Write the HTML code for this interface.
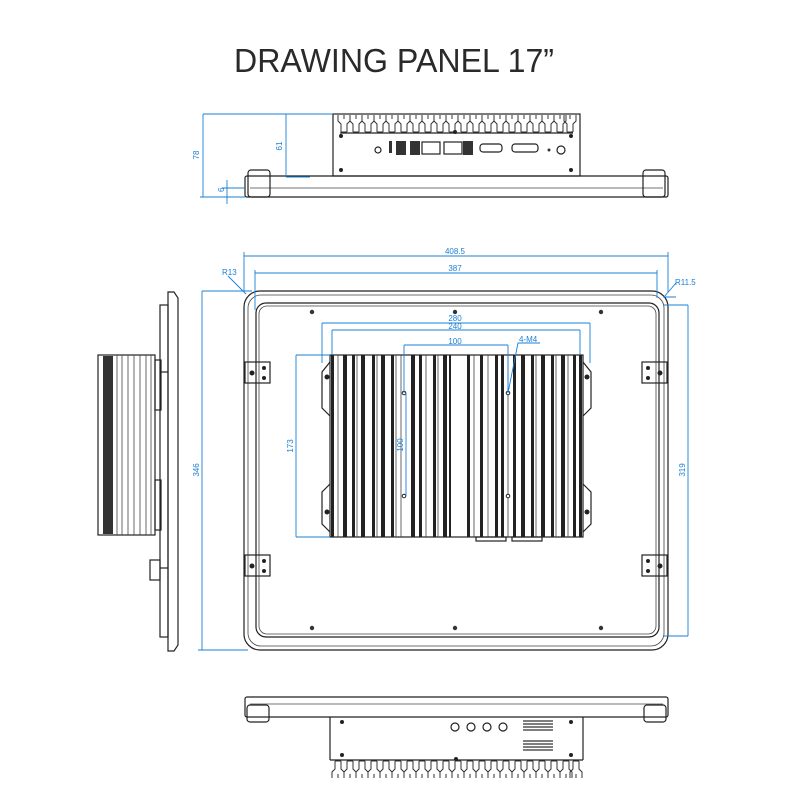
<!DOCTYPE html>
<html><head><meta charset="utf-8"><style>
html,body{margin:0;padding:0;background:#fff;width:800px;height:800px;overflow:hidden}
svg{display:block}
.k{fill:none;stroke:#222;stroke-width:1.2}
.t{fill:none;stroke:#444;stroke-width:.8}
.b{fill:none;stroke:#1a7fd6;stroke-width:.9}
.bt{fill:#1a7fd6;font-family:"Liberation Sans",sans-serif;font-size:8px}
</style></head><body>
<svg width="800" height="800" viewBox="0 0 800 800" xmlns="http://www.w3.org/2000/svg">
<defs>
<path id="fin" d="M0 0v6l3 3v8M12 0v6l-3 3v8M3 17h6M6 0v4" fill="none" stroke="#333" stroke-width="1"/>
<path id="finb" d="M0 18v-6l3-3v-8M12 18v-6l-3-3v-8M3 1h6M6 18v-4" fill="none" stroke="#333" stroke-width="1"/>
</defs>
<text x="394" y="72" text-anchor="middle" font-family="Liberation Sans,sans-serif" font-size="33" fill="#2a2a2a" textLength="320" lengthAdjust="spacingAndGlyphs">DRAWING PANEL 17”</text>

<!-- TOP VIEW -->
<g>
<rect class="k" x="333" y="114" width="247" height="62"/>
<line class="k" x1="340" y1="133" x2="573" y2="133"/>
<g transform="translate(0,115)">
<use href="#fin" x="338"/><use href="#fin" x="350"/><use href="#fin" x="362"/><use href="#fin" x="374"/><use href="#fin" x="386"/><use href="#fin" x="398"/><use href="#fin" x="410"/><use href="#fin" x="422"/><use href="#fin" x="434"/><use href="#fin" x="446"/><use href="#fin" x="458"/><use href="#fin" x="470"/><use href="#fin" x="482"/><use href="#fin" x="494"/><use href="#fin" x="506"/><use href="#fin" x="518"/><use href="#fin" x="530"/><use href="#fin" x="542"/><use href="#fin" x="554"/><use href="#fin" x="564"/>
</g>
<rect x="396" y="141" width="10" height="14" fill="#333"/><rect x="410" y="141" width="10" height="14" fill="#333"/>
<rect class="k" x="422" y="142" width="18" height="12"/><rect class="k" x="444" y="142" width="18" height="12"/>
<rect x="463" y="141" width="10" height="14" fill="#333"/>
<rect class="k" x="480" y="144" width="22" height="8" rx="3"/><rect class="k" x="512" y="144" width="26" height="8" rx="3"/>
<circle class="k" cx="378" cy="150" r="3"/><circle class="k" cx="561" cy="150" r="4"/><circle cx="549" cy="150" r="1.5" fill="#333"/>
<rect x="389" y="141" width="3" height="12" fill="#333"/>
<circle cx="341" cy="136" r="2" fill="#222"/><circle cx="571" cy="136" r="2" fill="#222"/><circle cx="455" cy="132" r="2" fill="#222"/>
<circle cx="341" cy="170" r="2" fill="#222"/><circle cx="571" cy="170" r="2" fill="#222"/>
<rect class="k" x="245" y="176" width="423" height="21" rx="2"/>
<line class="t" x1="250" y1="188" x2="663" y2="188"/>
<rect class="k" x="248" y="170" width="22" height="27" rx="3"/><rect class="k" x="643" y="170" width="22" height="27" rx="3"/>
<line class="b" x1="203" y1="114" x2="333" y2="114"/><line class="b" x1="203" y1="114" x2="203" y2="197"/><line class="b" x1="200" y1="197" x2="245" y2="197"/>
<text class="bt" transform="translate(199,155) rotate(-90)" text-anchor="middle">78</text>
<line class="b" x1="286" y1="114" x2="286" y2="177"/><line class="b" x1="286" y1="177" x2="310" y2="177"/>
<text class="bt" transform="translate(282,146) rotate(-90)" text-anchor="middle" font-size="6">61</text>
<line class="b" x1="227" y1="180" x2="227" y2="204"/><line class="b" x1="222" y1="188" x2="245" y2="188"/>
<text class="bt" transform="translate(224,192) rotate(-90)" font-size="5">6</text>
</g>

<!-- SIDE VIEW -->
<g>
<path class="k" d="M168 292h6l4 6v347l-4 6h-6z"/>
<rect class="k" x="160" y="305" width="8" height="332"/>
<rect class="k" x="98" y="355" width="57" height="180"/>
<rect x="103" y="356" width="10" height="178" fill="#333"/>
<g class="t"><path d="M117 355v180M122 355v180M128 355v180M134 355v180M140 355v180M146 355v180M151 355v180"/></g>
<rect class="k" x="155" y="360" width="6" height="50"/><rect class="k" x="155" y="480" width="6" height="50"/>
<rect class="k" x="150" y="560" width="10" height="20"/>
<line class="k" x1="160" y1="372" x2="168" y2="372"/><line class="k" x1="160" y1="568" x2="168" y2="568"/>
</g>

<!-- MAIN FRONT -->
<g>
<rect class="k" x="244" y="291" width="424" height="359" rx="16"/>
<rect class="t" x="248" y="295" width="416" height="351" rx="13"/>
<rect class="k" x="256" y="303" width="403" height="334" rx="10"/>
<rect class="t" x="259" y="306" width="397" height="328" rx="8"/>
<g fill="#333"><circle cx="312" cy="312" r="2.2"/><circle cx="455" cy="312" r="2.2"/><circle cx="601" cy="312" r="2.2"/><circle cx="312" cy="628" r="2.2"/><circle cx="455" cy="628" r="2.2"/><circle cx="601" cy="628" r="2.2"/></g>
<g>
<rect class="k" fill="#fff" x="245" y="362" width="25" height="21"/><rect class="k" fill="#fff" x="245" y="555" width="25" height="21"/>
<rect class="k" fill="#fff" x="642" y="362" width="25" height="21"/><rect class="k" fill="#fff" x="642" y="555" width="25" height="21"/>
<g fill="#222"><circle cx="252" cy="373" r="2.5"/><circle cx="264" cy="368" r="2"/><circle cx="264" cy="378" r="2"/>
<circle cx="252" cy="566" r="2.5"/><circle cx="264" cy="561" r="2"/><circle cx="264" cy="571" r="2"/>
<circle cx="660" cy="373" r="2.5"/><circle cx="648" cy="368" r="2"/><circle cx="648" cy="378" r="2"/>
<circle cx="660" cy="566" r="2.5"/><circle cx="648" cy="561" r="2"/><circle cx="648" cy="571" r="2"/></g>
</g>
<path class="k" d="M330 362l-8 10v36l8 8M330 484l-8 8v32l8 8M583 362l8 10v36l-8 8M583 484l8 8v32l-8 8"/>
<rect class="k" x="330" y="355" width="253" height="182"/>
<g fill="#222">
<rect x="331" y="355" width="3" height="182"/><rect x="343" y="355" width="4" height="182"/><rect x="352" y="355" width="3" height="182"/><rect x="361" y="355" width="4" height="182"/><rect x="372" y="355" width="3" height="182"/><rect x="381" y="355" width="4" height="182"/><rect x="391" y="355" width="3" height="182"/>
<rect x="411" y="355" width="4" height="182"/><rect x="419" y="355" width="3" height="182"/><rect x="433" y="355" width="3" height="182"/><rect x="443" y="355" width="4" height="182"/><rect x="449" y="355" width="2" height="182"/>
<rect x="467" y="355" width="3" height="182"/><rect x="480" y="355" width="3" height="182"/><rect x="495" y="355" width="3" height="182"/><rect x="501" y="355" width="3" height="182"/>
<rect x="513" y="355" width="3" height="182"/><rect x="521" y="355" width="4" height="182"/><rect x="531" y="355" width="3" height="182"/><rect x="541" y="355" width="4" height="182"/><rect x="551" y="355" width="3" height="182"/><rect x="561" y="355" width="4" height="182"/><rect x="573" y="355" width="3" height="182"/><rect x="579" y="355" width="3" height="182"/>
</g>
<g class="t"><path d="M338 355v182M357 355v182M377 355v182M396 355v182M401 355v182M426 355v182M438 355v182M474 355v182M488 355v182M508 355v182M536 355v182M556 355v182M568 355v182"/></g>
<rect class="k" fill="#fff" x="476" y="537" width="30" height="4"/><rect class="k" fill="#fff" x="512" y="537" width="30" height="4"/>
<g fill="#222"><circle cx="327" cy="377" r="2.5"/><circle cx="587" cy="377" r="2.5"/><circle cx="327" cy="512" r="2.5"/><circle cx="587" cy="512" r="2.5"/></g>
<g fill="#fff" stroke="#222"><circle cx="404" cy="393" r="1.8"/><circle cx="508" cy="393" r="1.8"/><circle cx="404" cy="496" r="1.8"/><circle cx="508" cy="496" r="1.8"/></g>
</g>
<g class="b">
<path d="M244 256h424M244 252v40M668 252v40"/>
<path d="M255 273h402M255 270v40M657 270v28"/>
<path d="M202 291h50M202 291v359M198 650h50"/>
<path d="M688 305h-25M688 305v331M688 636h-25"/>
<path d="M322 323h268M322 323v40M590 323v40"/>
<path d="M332 330h248M332 330v25M580 330v25"/>
<path d="M404 345h104M404 345v48M508 345v48"/>
<path d="M296 355h34M296 355v182M296 537h34"/>
<path d="M406 393v103"/>
<path d="M508 393l10-50h22"/>
<path d="M228 276l18 18M676 283l-12 14h12"/>
</g>
<text class="bt" x="455" y="254" text-anchor="middle">408.5</text>
<text class="bt" x="455" y="271" text-anchor="middle">387</text>
<text class="bt" x="455" y="321" text-anchor="middle">280</text>
<text class="bt" x="455" y="329" text-anchor="middle">240</text>
<text class="bt" x="455" y="344" text-anchor="middle">100</text>
<text class="bt" x="519" y="342">4-M4</text>
<text class="bt" x="222" y="275" font-size="6">R13</text>
<text class="bt" x="675" y="285" font-size="7">R11.5</text>
<text class="bt" transform="translate(199,470) rotate(-90)" text-anchor="middle">346</text>
<text class="bt" transform="translate(685,470) rotate(-90)" text-anchor="middle">319</text>
<text class="bt" transform="translate(293,446) rotate(-90)" text-anchor="middle">173</text>
<text class="bt" transform="translate(403,445) rotate(-90)" text-anchor="middle" font-size="7">100</text>

<!-- BOTTOM VIEW -->
<g>
<rect class="k" x="245" y="697" width="423" height="20" rx="2"/>
<line class="t" x1="250" y1="704" x2="663" y2="704"/>
<rect class="k" x="247" y="705" width="22" height="17" rx="3"/><rect class="k" x="644" y="705" width="22" height="17" rx="3"/>
<path class="k" d="M330 717v43M583 717v43M330 760h253"/>
<g transform="translate(0,760)">
<use href="#finb" x="332"/><use href="#finb" x="344"/><use href="#finb" x="356"/><use href="#finb" x="368"/><use href="#finb" x="380"/><use href="#finb" x="392"/><use href="#finb" x="404"/><use href="#finb" x="416"/><use href="#finb" x="428"/><use href="#finb" x="440"/><use href="#finb" x="452"/><use href="#finb" x="464"/><use href="#finb" x="476"/><use href="#finb" x="488"/><use href="#finb" x="500"/><use href="#finb" x="512"/><use href="#finb" x="524"/><use href="#finb" x="536"/><use href="#finb" x="548"/><use href="#finb" x="560"/><use href="#finb" x="570"/>
</g>
<g fill="#222"><circle cx="342" cy="722" r="2"/><circle cx="571" cy="722" r="2"/><circle cx="342" cy="755" r="2"/><circle cx="571" cy="755" r="2"/><circle cx="456" cy="759" r="2"/></g>
<g class="k"><circle cx="455" cy="727" r="4"/><circle cx="471" cy="727" r="4"/><circle cx="487" cy="727" r="4"/><circle cx="503" cy="727" r="4"/></g>
<g stroke="#333" stroke-width="1.2"><path d="M523 721h30M523 724h30M523 727h30M523 730h30M523 741h30M523 744h30M523 747h30M523 750h30"/></g>
</g>
</svg>
</body></html>
